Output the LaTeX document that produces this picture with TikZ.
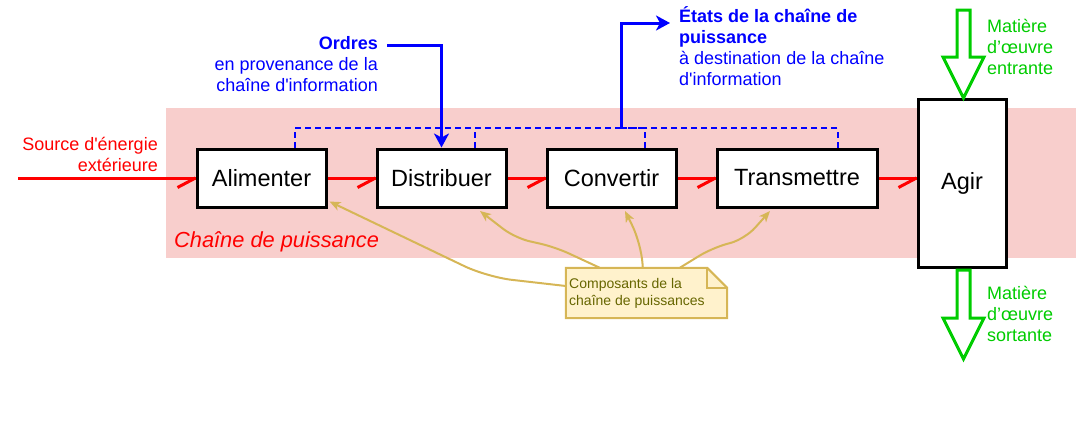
\documentclass[tikz,border=0pt]{standalone}
\usepackage{fontspec}
\setmainfont{Liberation Sans}[Ligatures=TeXOff]
\usetikzlibrary{arrows.meta,calc}
\definecolor{pinkbg}{HTML}{F8CECC}
\definecolor{notefill}{HTML}{FFF2CC}
\definecolor{notedraw}{HTML}{D6B656}
\definecolor{notetext}{HTML}{666600}
\definecolor{grn}{HTML}{00CC00}
\definecolor{blu}{HTML}{0000FF}
\definecolor{rd}{HTML}{FF0000}
\begin{document}
\begin{tikzpicture}[x=1pt,y=-1pt,
  box/.style={draw=black,line width=3pt,fill=white,minimum width=129pt,minimum height=58pt,inner sep=0pt,font=\fontsize{23.5}{28}\selectfont},
  flow/.style={draw=rd,line width=3pt},
  txt/.style={inner sep=0pt,font=\fontsize{18}{21}\selectfont},
  dsh/.style={draw=blu,line width=2pt,dash pattern=on 6pt off 4pt},
  bluarrow/.style={draw=blu,line width=3pt,-{Stealth[length=14pt,width=15pt,inset=4pt]}},
  goldarrow/.style={draw=notedraw,line width=2pt,rounded corners=18pt,-{Stealth[length=11pt,width=9pt,inset=3pt]}},
  bigarrow/.style={draw=grn,line width=3pt,line join=miter}
]
\useasboundingbox (0,0) rectangle (1078,423);
% band
\fill[pinkbg] (166,108) rectangle (1076,258);
\node[anchor=west,inner sep=0pt,text=rd,font=\fontsize{21.8}{26}\selectfont\itshape] (band) at (174,242) {Chaîne de puissance};

% boxes
\node[box] (al) at (261.5,178) {Alimenter};
\node[box] (di) at (441.5,178) {Distribuer};
\node[box] (co) at (611.5,178) {Convertir};
\node[box,minimum width=160pt] (tr) at (797,178) {Transmettre};
\node[box,minimum width=88pt,minimum height=168pt] (ag) at (962,183) {Agir};

% dashed state lines
\coordinate (hub) at (621,128);
\draw[dsh] ($(al.north west)!0.75!(al.north east)$) |- (hub);
\draw[dsh] ($(di.north west)!0.75!(di.north east)$) |- (hub);
\draw[dsh] ($(co.north west)!0.75!(co.north east)$) |- (hub);
\draw[dsh] ($(tr.north west)!0.75!(tr.north east)$) |- (hub);
\coordinate (etin) at (670,23);
\draw[bluarrow] (hub) |- (etin);

% orders
\coordinate (ordin) at (387,45);
\draw[bluarrow] (ordin) -| (di.north);

% red flow
\coordinate (srcin) at (18,178);
\coordinate (agin) at (tr.east -| ag.west);
\draw[flow] (srcin) -- (al.west);
\draw[flow] (al.east) -- (di.west);
\draw[flow] (di.east) -- (co.west);
\draw[flow] (co.east) -- (tr.west);
\draw[flow] (tr.east) -- (agin);
\foreach \n in {al.west,di.west,co.west,tr.west,agin}{
  \draw[flow] (\n) -- ++(-18,9.5);
}

% texts
\node[txt,text=rd,align=right,anchor=east] (src) at (158,154) {Source d'énergie\\extérieure};
\node[txt,text=blu,align=right,anchor=east] (ord) at (378,64) {\textbf{Ordres}\\en provenance de la\\chaîne d'information};
\node[txt,text=blu,align=left,anchor=west] (eta) at (679,46) {\textbf{États de la chaîne de}\\\textbf{puissance}\\à destination de la chaîne\\d'information};
\node[txt,text=grn,align=left,anchor=west] (mein) at (987,47) {Matière\\d’œuvre\\entrante};
\node[txt,text=grn,align=left,anchor=west] (meout) at (987,314) {Matière\\d’œuvre\\sortante};

% green block arrows
\draw[bigarrow] (957,10) -- (970,10) -- (970,57) -- (984,57) -- (963.5,98) -- (943,57) -- (957,57) -- cycle;
\draw[bigarrow] (957,270) -- (970,270) -- (970,318) -- (984,318) -- (963.5,359) -- (943,318) -- (957,318) -- cycle;

% note
\node[minimum width=161pt,minimum height=50pt,inner sep=0pt] (note) at (646.5,293) {};
\draw[draw=notedraw,fill=notefill,line width=2pt,line join=miter]
  (note.north west) -- ([xshift=-20pt]note.north east) -- ([yshift=-20pt]note.north east) -- (note.south east) -- (note.south west) -- cycle;
\draw[draw=notedraw,line width=2pt] ([xshift=-20pt]note.north east) |- ([yshift=-20pt]note.north east);
\node[anchor=west,inner sep=0pt,text=notetext,align=left,font=\fontsize{14}{16.5}\selectfont] (notetxt) at (569,293.5) {Composants de la\\chaîne de puissances};

% gold connectors
\draw[goldarrow,rounded corners=25pt] ([yshift=7pt]note.west) -- (487,277) -- ([xshift=2pt,yshift=7pt]al.south east);
\draw[goldarrow,rounded corners=15pt] ([xshift=34pt]note.north west) -- (555,247) -- (515,238) -- ([xshift=38.5pt,yshift=-2.5pt]di.south);
\draw[goldarrow,rounded corners=20pt] ([xshift=77pt]note.north west) -- (641,243) -- ([xshift=13.5pt,yshift=-2.5pt]co.south);
\draw[goldarrow,rounded corners=15pt] ([xshift=114pt]note.north west) -- (712,248) -- (745,239) -- ([xshift=-27pt,yshift=-2.5pt]tr.south);
\end{tikzpicture}
\end{document}
